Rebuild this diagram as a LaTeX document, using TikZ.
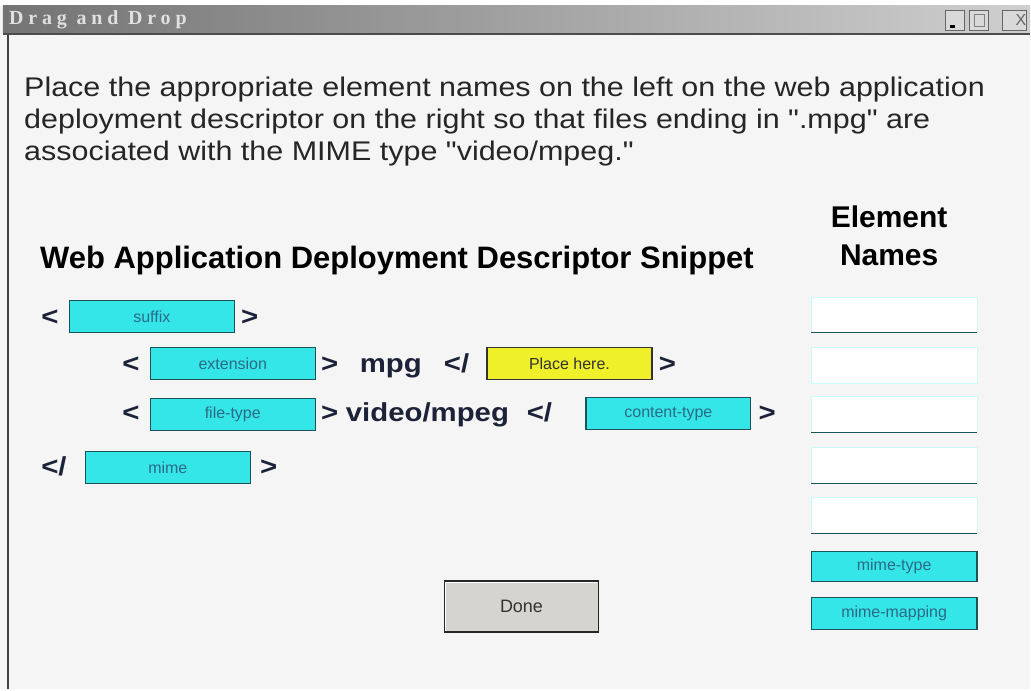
\documentclass[tikz,border=0pt]{standalone}
\usepackage{fontspec}
\setmainfont{Liberation Sans}
\newfontfamily\titlefont[LetterSpace=24]{Liberation Serif}
\newfontfamily\widefont[FakeStretch=1.13]{Liberation Sans}
\definecolor{WinGray}{HTML}{F5F5F5}
\definecolor{BarDark}{HTML}{747474}
\definecolor{BarLight}{HTML}{CFCFCF}
\definecolor{TagCyan}{HTML}{35E6E8}
\definecolor{TagEdge}{HTML}{1D5258}
\definecolor{TagText}{HTML}{2B6A86}
\definecolor{SlotYellow}{HTML}{F0F02A}
\definecolor{CodeBlue}{HTML}{1C2238}
\definecolor{BtnGray}{HTML}{D5D4D0}
\usetikzlibrary{positioning}

\begin{document}
\begin{tikzpicture}[x=1pt,y=-1pt,
        tag/.style={draw=TagEdge,line width=1.3pt,fill=TagCyan,
                    minimum width=165pt,minimum height=32pt,inner sep=0pt,
                    font=\fontsize{16}{16}\selectfont,text=TagText},
        slot/.style={draw=TagCyan!25,fill=white,
                     minimum width=166pt,minimum height=36pt,inner sep=0pt},
        code/.style={font=\widefont\fontsize{26}{26}\selectfont\bfseries,
                     text=CodeBlue,inner sep=0pt},
        every node/.style={inner sep=0pt}]

        % window frame
        \fill[WinGray] (0,0) rectangle (1031,690);
        \fill[white] (0,0) rectangle (1031,6);
        \shade[left color=BarDark,right color=BarLight] (3,6) rectangle (1031,33);
        \draw[black!70,line width=2pt] (3,34) -- (1031,34);
        \draw[black!75,line width=2pt] (8,35) -- (8,690);
        \node[anchor=west,text=white!88!black,font=\titlefont\bfseries\fontsize{20}{20}\selectfont]
            (title) at (9,20) {Drag and Drop};
        \node[draw=black!60,fill=BarLight!80,minimum width=19pt,minimum height=20pt] (minbtn) at (956,20) {};
        \node[draw=black!60,fill=BarLight!80,minimum width=19pt,minimum height=20pt] (maxbtn) at (980,20) {};
        \node[draw=black!60,fill=BarLight!80,minimum width=24pt,minimum height=20pt] (closebtn) at (1015,20) {};
        \fill[black] (951,25) rectangle (956,28);
        \draw[black!50] (975,14) rectangle (985,26);
        \node[text=black!60,font=\fontsize{16}{16}\selectfont] (closex) at (1022,20) {X};

        % instructions
        \node[anchor=base west,font=\widefont\fontsize{27}{27}\selectfont,text=black!85] (line1) at (24,97)
            {Place the appropriate element names on the left on the web application};
        \node[anchor=base west,font=\widefont\fontsize{27}{27}\selectfont,text=black!85] (line2) at (24,129)
            {deployment descriptor on the right so that files ending in ".mpg" are};
        \node[anchor=base west,font=\widefont\fontsize{27}{27}\selectfont,text=black!85] (line3) at (24,161)
            {associated with the MIME type "video/mpeg."};

        % headings
        \node[anchor=base west,font=\fontsize{31}{31}\selectfont\bfseries] (snippet) at (40,269)
            {Web Application Deployment Descriptor Snippet};
        \node[anchor=base,font=\fontsize{30}{30}\selectfont\bfseries] (elem1) at (890,228) {Element};
        \node[anchor=base,font=\fontsize{30}{30}\selectfont\bfseries] (elem2) at (890,266) {Names};

        % descriptor snippet
        \node[code,anchor=base] (lt1) at (50,326) {<};
        \node[tag] (suffix) at (152,317) {suffix};
        \node[code,anchor=base] (gt1) at (250,326) {>};

        \node[code,anchor=base] (lt2) at (131,373) {<};
        \node[tag] (ext) at (233,364) {extension};
        \node[code,anchor=base] (gt2) at (330,373) {>};
        \node[code,anchor=base west] (mpg) at (360,373) {mpg};
        \node[code,anchor=base] (cl2) at (457,373) {</};
        \node[tag,fill=SlotYellow,draw=black!80,text=black!80] (place) at (570,364) {Place here.};
        \node[code,anchor=base] (gt2b) at (668,373) {>};

        \node[code,anchor=base] (lt3) at (131,422) {<};
        \node[tag] (ftype) at (233,415) {file-type};
        \node[code,anchor=base] (gt3) at (330,422) {>};
        \node[code,anchor=base west] (video) at (346,422) {video/mpeg};
        \node[code,anchor=base] (cl3) at (540,422) {</};
        \node[tag] (ctype) at (669,414) {content-type};
        \node[code,anchor=base] (gt3b) at (768,422) {>};

        \node[code,anchor=base] (cl4) at (54,476) {</};
        \node[tag] (mime) at (168,468) {mime};
        \node[code,anchor=base] (gt4) at (269,476) {>};

        % element name slots
        \foreach \y/\n in {315/1,366/2,415/3,466/4,516/5}{
          \node[slot] (s\n) at (895,\y) {};
        }
        \foreach \n in {1,3,4,5}{
          \draw[TagEdge,line width=1pt] (s\n.south west) -- (s\n.south east);
        }
        \node[tag,minimum width=166pt,minimum height=30pt] (mtype) at (895,567) {mime-type};
        \node[tag,minimum width=166pt,minimum height=32pt] (mmap) at (895,614) {mime-mapping};

        % button
        \node[draw=black!85,line width=1.5pt,fill=BtnGray,minimum width=154pt,minimum height=51pt,
              font=\fontsize{18}{18}\selectfont,text=black!80] (done) at (522,607) {Done};
        \draw[white,line width=1pt] ([shift={(2,-2)}]done.south west) -- ([shift={(2,2)}]done.north west)
            -- ([shift={(-2,2)}]done.north east);

        \useasboundingbox (0,0) rectangle (1031,690);
\end{tikzpicture}
\end{document}
